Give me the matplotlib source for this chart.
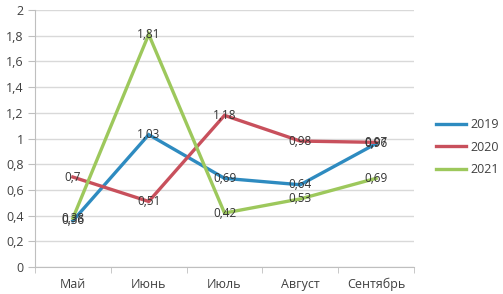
import numpy as np
import matplotlib.pyplot as plt

months = ['Май', 'Июнь', 'Июль', 'Август', 'Сентябрь']
v2019 = [0.36, 1.03, 0.69, 0.64, 0.96]
v2020 = [0.7, 0.51, 1.18, 0.98, 0.97]
v2021 = [0.38, 1.81, 0.42, 0.53, 0.69]
series = [('2019', v2019, '#2E8BC0'), ('2020', v2020, '#C8505C'), ('2021', v2021, '#9DC85C')]

plt.rcParams['font.family'] = ['Open Sans', 'DejaVu Sans']

fig = plt.figure(figsize=(5.03, 2.94), dpi=100)
ax = fig.add_axes([35/503, 1-267/294, (414-35)/503, (267-10)/294])

x = np.arange(len(months))
for name, vals, col in series:
    ax.plot(x, vals, color=col, lw=2.4, label=name, solid_joinstyle='miter')
for name, vals, col in series:
    for xi, v in zip(x, vals):
        lab = ('%g' % v).replace('.', ',')
        ax.text(xi, v, lab, ha='center', va='center', fontsize=8.5, color='#333333')

ax.set_xlim(-0.5, len(months) - 0.5)
ax.set_ylim(0, 2)
yt = np.arange(0, 2.01, 0.2)
ax.set_yticks(yt)
ax.set_yticklabels([('%g' % round(t, 1)).replace('.', ',') for t in yt])
ax.set_xticks(x)
ax.set_xticklabels(months)
ax.set_xticks(np.arange(-0.5, len(months), 1), minor=True)
ax.tick_params(axis='x', which='major', length=0, pad=8, labelsize=9, colors='#404040')
ax.tick_params(axis='x', which='minor', length=4, color='#BFBFBF')
ax.tick_params(axis='y', length=5, color='#BFBFBF', labelsize=9, labelcolor='#404040', pad=3)
ax.grid(axis='y', color='#D9D9D9', lw=1)
ax.set_axisbelow(True)
for s in ['top', 'right']:
    ax.spines[s].set_visible(False)
ax.spines['left'].set_color('#BFBFBF')
ax.spines['bottom'].set_color('#BFBFBF')

fig.legend(loc='upper left', bbox_to_anchor=(425/503, 1-107/294), frameon=False,
           fontsize=9, handlelength=2.4, handletextpad=0.3, labelspacing=0.75,
           labelcolor='#404040')

fig.savefig('out.png', dpi=100)
